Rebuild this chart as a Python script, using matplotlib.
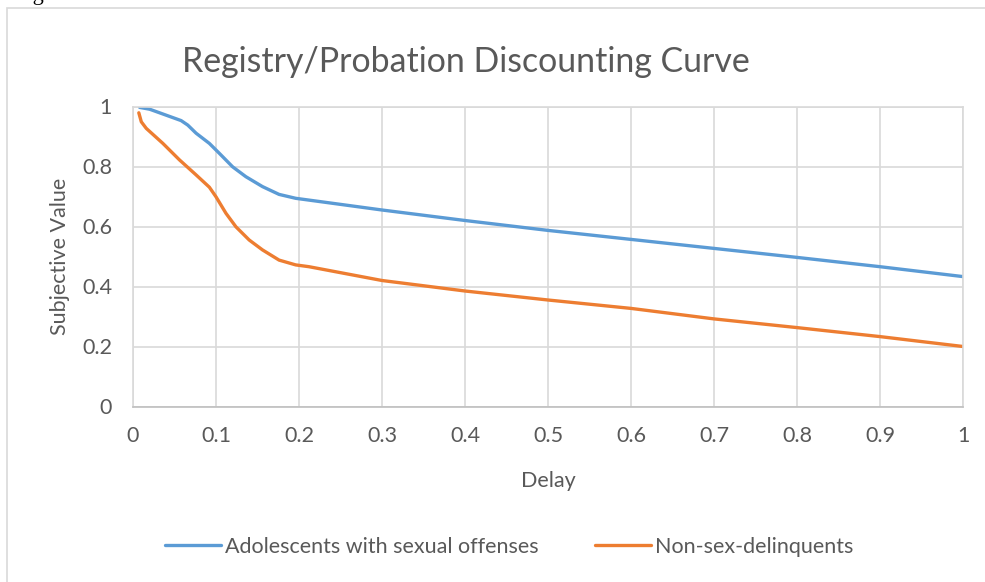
import matplotlib
matplotlib.use("Agg")
import matplotlib.pyplot as plt
from matplotlib.patches import Rectangle

# valores
delay_adol = [0.008, 0.02, 0.036, 0.058, 0.066, 0.076, 0.092, 0.104, 0.12,
              0.136, 0.156, 0.176, 0.196, 0.212, 0.3, 0.4, 0.5, 0.6, 0.7,
              0.8, 0.9, 1.0]
sv_adol = [0.997, 0.991, 0.975, 0.953, 0.938, 0.911, 0.877, 0.844, 0.799,
           0.766, 0.733, 0.707, 0.694, 0.688, 0.655, 0.62, 0.587, 0.557,
           0.527, 0.497, 0.466, 0.433]

delay_non = [0.007, 0.01, 0.016, 0.036, 0.056, 0.076, 0.092, 0.1, 0.112,
             0.124, 0.14, 0.156, 0.176, 0.196, 0.212, 0.3, 0.4, 0.5, 0.6,
             0.7, 0.8, 0.9, 1.0]
sv_non = [0.979, 0.949, 0.927, 0.877, 0.822, 0.772, 0.731, 0.699, 0.644,
          0.599, 0.555, 0.522, 0.488, 0.472, 0.466, 0.42, 0.385, 0.355,
          0.327, 0.292, 0.263, 0.233, 0.2]

x_ticks = [0, 0.1, 0.2, 0.3, 0.4, 0.5, 0.6, 0.7, 0.8, 0.9, 1]
x_labels = ["0", "0.1", "0.2", "0.3", "0.4", "0.5", "0.6", "0.7", "0.8", "0.9", "1"]
y_ticks = [0, 0.2, 0.4, 0.6, 0.8, 1]
y_labels = ["0", "0.2", "0.4", "0.6", "0.8", "1"]

plt.rcParams['font.family'] = ['Lato', 'DejaVu Sans']
gris = '#595959'
fs = 15.5

fig = plt.figure(figsize=(9.85, 5.82), dpi=100)
W, H = 985, 582

# marco del gráfico
fig.patches.append(Rectangle((7 / W, -0.05), 1.2, 1 - 7.5 / H + 0.05,
                             transform=fig.transFigure, fill=False,
                             edgecolor='#d9d9d9', linewidth=1.2))
# pie de figura cortado arriba
fig.text(14 / W, 1.0, "Figure 1", family='Liberation Serif',
         fontsize=16, va='baseline', ha='left', color='black')

ax = fig.add_axes([133 / W, 1 - 406.5 / H, 830 / W, 300 / H])
ax.plot(delay_adol, sv_adol, color='#5B9BD5', lw=2.4,
        label='Adolescents with sexual offenses', solid_capstyle='round',
        solid_joinstyle='round')
ax.plot(delay_non, sv_non, color='#ED7D31', lw=2.4,
        label='Non-sex-delinquents', solid_capstyle='round',
        solid_joinstyle='round')

ax.set_xlim(0, 1)
ax.set_ylim(0, 1)
ax.set_xticks(x_ticks)
ax.set_xticklabels(x_labels)
ax.set_yticks(y_ticks)
ax.set_yticklabels(y_labels)
ax.grid(True, color='#d9d9d9', lw=1.2)
ax.set_axisbelow(True)
for s in ['top', 'right', 'left']:
    ax.spines[s].set_color('#d9d9d9')
    ax.spines[s].set_linewidth(1.2)
ax.spines['bottom'].set_color('#bfbfbf')
ax.spines['bottom'].set_linewidth(1.2)
ax.tick_params(length=0, labelsize=fs, labelcolor=gris)
ax.tick_params(axis='x', pad=14)
ax.tick_params(axis='y', pad=15)

ax.set_xlabel('Delay', fontsize=fs, color=gris, labelpad=18)
ax.set_ylabel('Subjective Value', fontsize=fs, color=gris, labelpad=9)
fig.text(466 / W, 1 - 62 / H, 'Registry/Probation Discounting Curve',
         fontsize=24.4, color=gris, ha='center', va='center')

fig.legend(loc='center', bbox_to_anchor=(509 / W, 1 - 547 / H), ncol=2,
           frameon=False, fontsize=fs, handlelength=2.6, handletextpad=0.2,
           columnspacing=2.6, labelcolor=gris)

fig.savefig('out.png', dpi=100)
